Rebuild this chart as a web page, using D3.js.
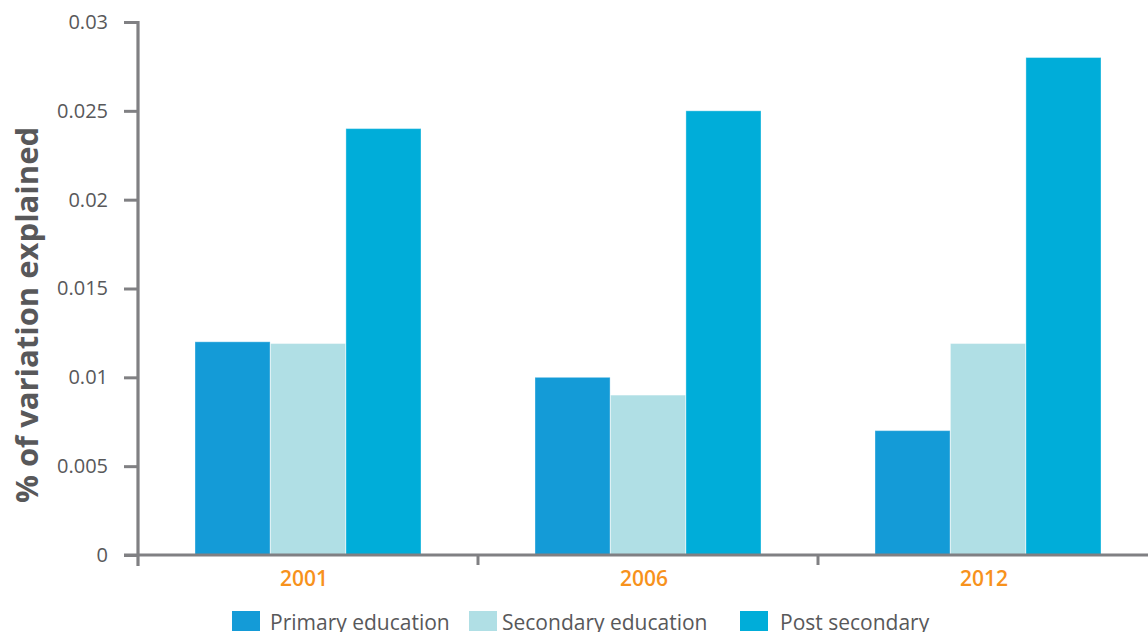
<!DOCTYPE html>
<html>
<head>
<meta charset="utf-8">
<script src="https://cdn.jsdelivr.net/npm/d3@7"></script>
<style>
  html, body { margin: 0; padding: 0; background: #fff; }
  svg { display: block; }
</style>
</head>
<body>
<svg id="chart" width="1148" height="632"></svg>
<script>
// Years on the category axis
const years = ["2001", "2006", "2012"];
// Education levels (one bar each per year)
const series = ["Primary education", "Secondary education", "Post secondary"];
// Share of variation explained, per year
const primary = [0.012, 0.010, 0.007];
const secondary = [0.0119, 0.009, 0.0119];
const postSecondary = [0.024, 0.025, 0.028];
// Y axis ticks
const yTicks = [0, 0.005, 0.01, 0.015, 0.02, 0.025, 0.03];
const yTickLabels = ["0", "0.005", "0.01", "0.015", "0.02", "0.025", "0.03"];

const colors = ["#149bd7", "#b0dfe5", "#00add9"];
const valuesBySeries = [primary, secondary, postSecondary];

const svg = d3.select("#chart");
const axisColor = "#808083";
const textColor = "#58585a";
const font = "'Open Sans', 'DejaVu Sans', sans-serif";

const x0 = d3.scaleBand().domain(years).range([138, 1158]).padding(0);
const x1 = d3.scaleBand().domain(series).range([57, 283]).paddingInner(0.005);
const y = d3.scaleLinear().domain([0, 0.03]).range([555, 22]);

// Bars
const groups = svg.append("g").selectAll("g")
  .data(years)
  .join("g")
  .attr("transform", d => `translate(${x0(d)},0)`);

groups.selectAll("rect")
  .data((yr, i) => series.map((s, j) => ({ s, j, v: valuesBySeries[j][i] })))
  .join("rect")
  .attr("x", d => x1(d.s))
  .attr("width", x1.bandwidth())
  .attr("y", d => y(d.v))
  .attr("height", d => y(0) - y(d.v))
  .attr("fill", d => colors[d.j])
  .attr("stroke", "rgba(255,255,255,0.35)")
  .attr("stroke-width", 1);

// Y axis
const yAxis = d3.axisLeft(y)
  .tickValues(yTicks)
  .tickFormat((d, i) => yTickLabels[i])
  .tickSize(14)
  .tickPadding(16);

const gy = svg.append("g")
  .attr("transform", "translate(138,0)")
  .call(yAxis);
gy.select(".domain").remove();
gy.selectAll(".tick line").attr("stroke", axisColor).attr("stroke-width", 3);
gy.selectAll(".tick text")
  .attr("fill", textColor)
  .attr("font-family", font)
  .attr("font-size", 20)
  .attr("font-weight", 400);
svg.append("line")
  .attr("x1", 138).attr("x2", 138)
  .attr("y1", 21).attr("y2", 566)
  .attr("stroke", axisColor).attr("stroke-width", 3.2);

// X axis baseline and group separators
svg.append("line")
  .attr("x1", 124).attr("x2", 1148)
  .attr("y1", y(0)).attr("y2", y(0))
  .attr("stroke", axisColor).attr("stroke-width", 3);
svg.append("g").selectAll("line")
  .data(years.slice(1))
  .join("line")
  .attr("x1", d => x0(d)).attr("x2", d => x0(d))
  .attr("y1", y(0)).attr("y2", 565)
  .attr("stroke", axisColor).attr("stroke-width", 3);

// Year labels
svg.append("g").selectAll("text")
  .data(years)
  .join("text")
  .attr("x", d => x0(d) + x0.bandwidth() / 2 - 4)
  .attr("y", 586)
  .attr("text-anchor", "middle")
  .attr("fill", "#f7921c")
  .attr("font-family", font)
  .attr("font-size", 21)
  .attr("font-weight", 600)
  .text(d => d);

// Y axis title
svg.append("text")
  .attr("transform", "translate(38,315) rotate(-90)")
  .attr("text-anchor", "middle")
  .attr("fill", textColor)
  .attr("font-family", font)
  .attr("font-size", 31)
  .attr("font-weight", 700)
  .text("% of variation explained");

// Legend
const legendX = [232, 469, 740];
const legendTextDx = [38, 33, 40];
const legend = svg.append("g").selectAll("g")
  .data(series)
  .join("g")
  .attr("transform", (d, i) => `translate(${legendX[i]},611)`);
legend.append("rect")
  .attr("width", 28).attr("height", 20)
  .attr("fill", (d, i) => colors[i]);
legend.append("text")
  .attr("x", (d, i) => legendTextDx[i])
  .attr("y", 19)
  .attr("fill", textColor)
  .attr("font-family", font)
  .attr("font-size", 21)
  .attr("font-weight", 400)
  .text(d => d);
</script>
</body>
</html>
